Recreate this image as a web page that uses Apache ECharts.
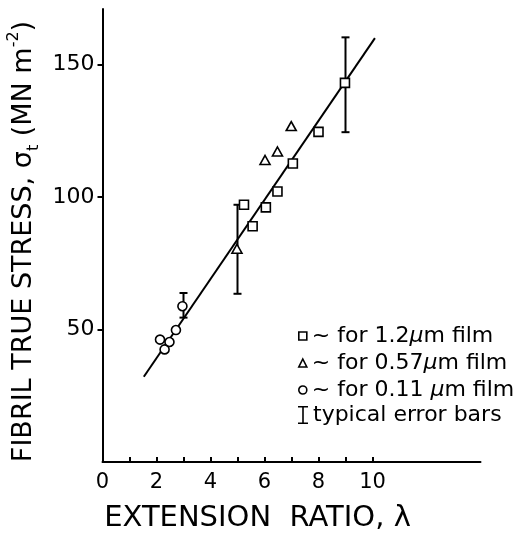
<!DOCTYPE html>
<html>
<head>
<meta charset="UTF-8">
<title>Fibril true stress</title>
<script type="text/javascript" src="https://cdn.jsdelivr.net/npm/echarts@6/dist/echarts.min.js"></script>
</head>
<body style="margin:0;background:#fff;">
<div id="main" style="width:523px;height:536px;"></div>
<script type="text/javascript">
// values
var film12 = [[5.24, 97.1], [5.56, 89.0], [6.05, 96.1], [6.48, 102.1], [7.05, 112.7], [8.0, 124.6], [8.98, 143.1]];
var film057 = [[4.98, 80.5], [6.02, 114.0], [6.48, 117.2], [6.99, 126.8]];
var film011 = [[2.13, 46.2], [2.3, 42.5], [2.48, 45.3], [2.72, 49.8], [2.96, 58.8]];
var errBars = [[3.0, 54.5, 63.8], [5.0, 63.5, 97.1], [9.0, 124.5, 160.3]];
var fitLine = [[1.53, 32.2], [10.09, 160.0]];
var xTicks = [1, 2, 3, 4, 5, 6, 7, 8, 9, 10];
var xLabels = [0, 2, 4, 6, 8, 10];
var yTicks = [50, 100, 150];
var legendText = {
	'1.2': '{t|~ for 1.2}{u|μ}{t|m film}',
	'0.57': '{t|~ for 0.57}{u|μ}{t|m film}',
	'0.11': '{t|~ for 0.11 }{u|μ}{t|m film}',
	'err': '{t|typical error bars}'
};

var font = 'DejaVu Sans';
var myChart = echarts.init(document.getElementById('main'));

var markStyle = {color: '#fff', borderColor: '#000', borderWidth: 1.6, opacity: 1};
var legendRich = {
	t: {fontFamily: font, fontSize: 22, color: '#000', lineHeight: 20},
	u: {fontFamily: font, fontSize: 22, fontStyle: 'italic', color: '#000', lineHeight: 20}
};

var option = {
	animation: false,
	grid: {left: 102.5, top: 9, width: 378, height: 453, outerBoundsMode: 'none', containLabel: false},
	xAxis: {
		type: 'value', min: 0, max: 14,
		name: 'EXTENSION  RATIO, λ',
		nameLocation: 'middle', nameGap: 42,
		nameTextStyle: {fontFamily: font, fontSize: 29, color: '#000', padding: [0, 68, 0, 0]},
		axisLine: {lineStyle: {color: '#000', width: 2}},
		axisTick: {show: true, inside: true, length: 5, customValues: xTicks, lineStyle: {color: '#000', width: 2}},
		axisLabel: {customValues: xLabels, margin: 10, fontFamily: font, fontSize: 21, color: '#000'},
		splitLine: {show: false}
	},
	yAxis: {
		type: 'value', min: 0, max: 171,
		name: '{a|FIBRIL TRUE STRESS, σ}{b|t}{a| (MN m}{c|-2}{a|)}',
		nameLocation: 'middle', nameGap: 52, nameRotate: 90,
		nameTextStyle: {
			padding: [0, 12, 0, 0],
			rich: {
				a: {fontFamily: font, fontSize: 27, color: '#000', lineHeight: 36},
				b: {fontFamily: font, fontSize: 16, color: '#000', lineHeight: 36, verticalAlign: 'bottom'},
				c: {fontFamily: font, fontSize: 16, color: '#000', lineHeight: 36, verticalAlign: 'top'}
			}
		},
		axisLine: {show: true, lineStyle: {color: '#000', width: 2}},
		axisTick: {show: true, inside: false, length: 5, customValues: yTicks, lineStyle: {color: '#000', width: 2}},
		axisLabel: {customValues: yTicks, margin: 8, fontFamily: font, fontSize: 22, color: '#000'},
		splitLine: {show: false}
	},
	legend: [{
		orient: 'vertical', left: 293, top: 320,
		itemWidth: 8, itemHeight: 8, itemGap: 5,
		selectedMode: false,
		data: [{name: '1.2', icon: 'rect'}, {name: '0.57', icon: 'triangle'}, {name: '0.11', icon: 'circle'}],
		itemStyle: markStyle,
		formatter: function (n) { return legendText[n]; },
		textStyle: {rich: legendRich}
	}, {
		orient: 'vertical', left: 293, top: 399,
		itemWidth: 10, itemHeight: 19,
		selectedMode: false,
		data: [{name: 'err', icon: 'path://M0,0H10V1.6H5.8V16.4H10V18H0V16.4H4.2V1.6H0Z', itemStyle: {color: '#000', borderWidth: 0}}],
		formatter: function (n) { return legendText[n]; },
		textStyle: {rich: legendRich}
	}],
	series: [{
		name: 'fit', type: 'line', data: fitLine, showSymbol: false, z: 1,
		lineStyle: {color: '#000', width: 2}
	}, {
		name: 'err', type: 'custom', z: 2,
		data: errBars,
		renderItem: function (params, api) {
			var x = api.coord([api.value(0), api.value(1)])[0];
			var lo = api.coord([api.value(0), api.value(1)])[1];
			var hi = api.coord([api.value(0), api.value(2)])[1];
			var s = {stroke: '#000', lineWidth: 2};
			return {
				type: 'group',
				children: [
					{type: 'line', shape: {x1: x, y1: lo, x2: x, y2: hi}, style: s},
					{type: 'line', shape: {x1: x - 4, y1: lo, x2: x + 4, y2: lo}, style: s},
					{type: 'line', shape: {x1: x - 4, y1: hi, x2: x + 4, y2: hi}, style: s}
				]
			};
		}
	}, {
		name: '1.2', type: 'scatter', data: film12, symbol: 'rect', symbolSize: 9, z: 3, itemStyle: markStyle
	}, {
		name: '0.57', type: 'scatter', data: film057, symbol: 'triangle', symbolSize: [10, 9], z: 3, itemStyle: markStyle
	}, {
		name: '0.11', type: 'scatter', data: film011, symbol: 'circle', symbolSize: 9, z: 3, itemStyle: markStyle
	}]
};
myChart.setOption(option);
</script>
</body>
</html>
